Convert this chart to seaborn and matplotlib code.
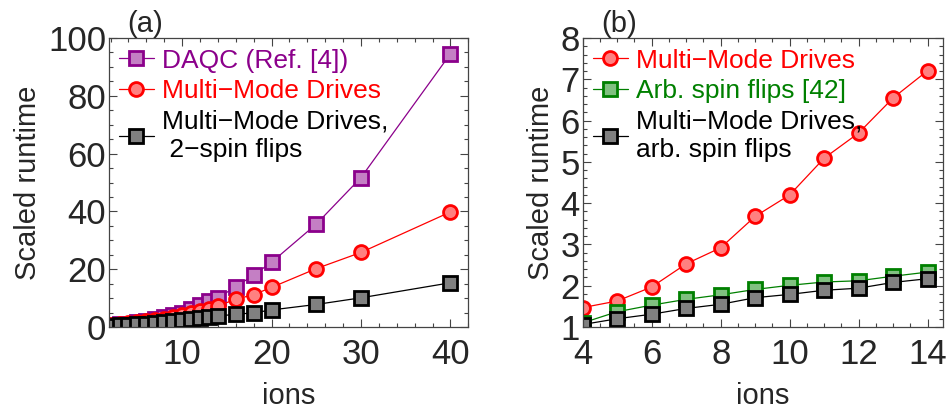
import matplotlib
matplotlib.use('Agg')
import matplotlib.pyplot as plt
import seaborn as sns
from matplotlib.ticker import MultipleLocator

# panel (a) data
ions_a = [2, 3, 4, 5, 6, 7, 8, 9, 10, 11, 12, 13, 14, 16, 18, 20, 25, 30, 40]
daqc_a = [0.6, 0.9, 1.2, 1.6, 2.0, 2.6, 3.3, 4.1, 5.0, 6.2, 7.6, 9.0, 10.1, 13.9, 18.0, 22.4, 35.6, 51.7, 94.5]
mmd_a = [0.8, 1.0, 1.3, 1.6, 2.0, 2.4, 2.9, 3.4, 4.0, 4.7, 5.4, 6.3, 7.3, 9.6, 11.2, 13.7, 20.2, 25.8, 39.8]
mmd2_a = [0.5, 0.6, 0.8, 1.0, 1.2, 1.4, 1.7, 2.0, 2.3, 2.6, 3.0, 3.4, 3.8, 4.4, 4.9, 5.9, 7.8, 10.1, 15.3]

# panel (b) data
ions_b = [4, 5, 6, 7, 8, 9, 10, 11, 12, 13, 14]
mmd_b = [1.47, 1.63, 1.97, 2.53, 2.92, 3.68, 4.2, 5.09, 5.70, 6.55, 7.21]
arb_b = [1.1, 1.37, 1.53, 1.67, 1.78, 1.91, 2.01, 2.09, 2.12, 2.23, 2.33]
mmdarb_b = [1.06, 1.2, 1.31, 1.45, 1.55, 1.71, 1.79, 1.89, 1.94, 2.08, 2.17]

sns.set_style('ticks')
plt.rcParams['font.family'] = ['Liberation Sans', 'DejaVu Sans']

fig = plt.figure(figsize=(9.46, 4.09), dpi=100)
ax1 = fig.add_axes([0.115, 0.2005, 0.38, 0.7065])
ax2 = fig.add_axes([0.616, 0.2005, 0.381, 0.7065])

purple = '#8b008b'
red = '#ff0000'
green = '#008000'


def draw(ax, x, y, line, face, marker, label):
    sns.lineplot(x=x, y=y, ax=ax, color=line, lw=0.9, marker=marker, ms=10,
                 markerfacecolor=face, markeredgecolor=line, markeredgewidth=2,
                 label=label)


draw(ax1, ions_a, daqc_a, purple, '#c47fc4', 's', 'DAQC (Ref. [4])')
draw(ax1, ions_a, mmd_a, red, '#ff8080', 'o', 'Multi\u2212Mode Drives')
draw(ax1, ions_a, mmd2_a, 'black', '#808080', 's', 'Multi\u2212Mode Drives,\n 2\u2212spin flips')

draw(ax2, ions_b, mmd_b, red, '#ff8080', 'o', 'Multi\u2212Mode Drives')
draw(ax2, ions_b, arb_b, green, '#80c080', 's', 'Arb. spin flips [42]')
draw(ax2, ions_b, mmdarb_b, 'black', '#808080', 's', 'Multi\u2212Mode Drives,\narb. spin flips')

ax1.set_xlim(1.8, 42)
ax1.set_ylim(0, 100)
ax1.xaxis.set_major_locator(MultipleLocator(10))
ax1.xaxis.set_minor_locator(MultipleLocator(2))
ax1.yaxis.set_major_locator(MultipleLocator(20))
ax1.yaxis.set_minor_locator(MultipleLocator(5))

ax2.set_xlim(4, 14.45)
ax2.set_ylim(1, 8)
ax2.xaxis.set_major_locator(MultipleLocator(2))
ax2.xaxis.set_minor_locator(MultipleLocator(0.5))
ax2.yaxis.set_major_locator(MultipleLocator(1))
ax2.yaxis.set_minor_locator(MultipleLocator(0.2))

for ax, tag, tx in [(ax1, '(a)', 0.05), (ax2, '(b)', 0.05)]:
    ax.set_xlabel('ions', fontsize=21, labelpad=8)
    ax.set_ylabel('Scaled runtime', fontsize=21, labelpad=4)
    ax.tick_params(which='both', direction='in', top=True, right=True,
                   labelsize=25, color='#444444')
    ax.tick_params(axis='x', pad=8)
    ax.tick_params(axis='y', pad=2)
    ax.tick_params(which='major', length=6, width=0.8)
    ax.tick_params(which='minor', length=3, width=0.8)
    for s in ax.spines.values():
        s.set_color('#444444')
        s.set_linewidth(0.9)
    ax.text(tx, 1.0, tag, transform=ax.transAxes, fontsize=21, va='bottom')
    leg = ax.legend(loc='upper left', frameon=False, fontsize=19, handlelength=1.3,
                    handletextpad=0.3, labelspacing=0.25, borderaxespad=0.2,
                    borderpad=0.2)
    for t, h in zip(leg.get_texts(), leg.legend_handles):
        t.set_color(h.get_color())

fig.savefig('out.png', dpi=100)
